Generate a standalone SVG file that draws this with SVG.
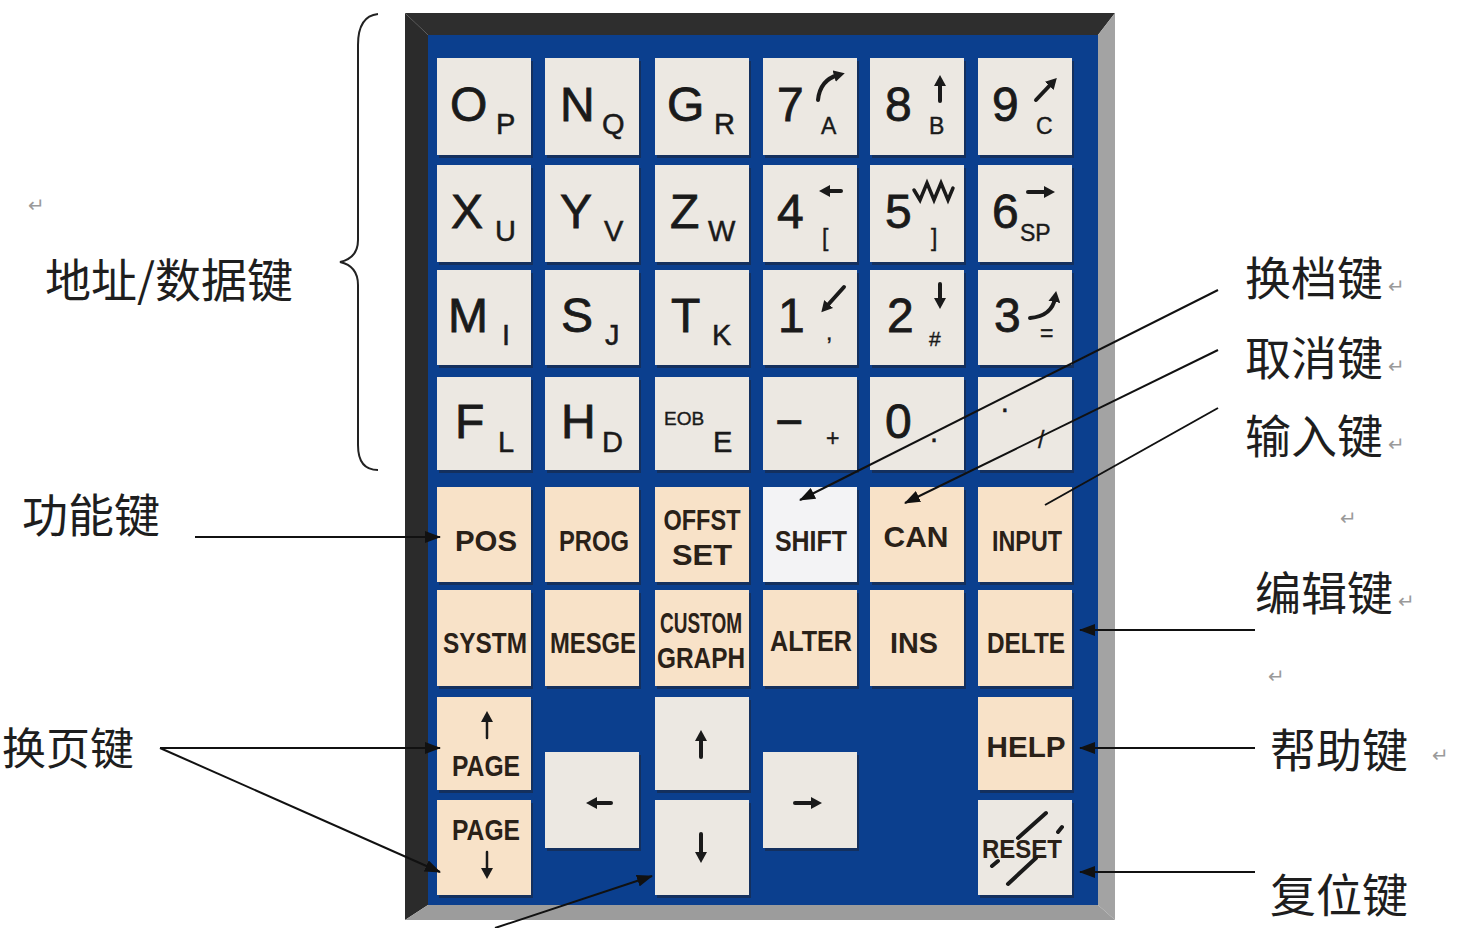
<svg xmlns="http://www.w3.org/2000/svg" width="1459" height="928" viewBox="0 0 1459 928">
<defs>
<style>
.bg{fill:#ffffff}
.k{fill:#ECE8E2}
.kp{fill:#F8E2C8}
.kw{fill:#F3F3F5}
.sh{fill:#14305E}
.m{font-family:"Liberation Sans",Arial,sans-serif;font-size:48px;fill:#1a1a1a;stroke:#1a1a1a;stroke-width:0.8px}
.s{font-family:"Liberation Sans",Arial,sans-serif;font-size:29px;fill:#1a1a1a;stroke:#1a1a1a;stroke-width:0.5px}
.ss{font-family:"Liberation Sans",Arial,sans-serif;font-size:23px;fill:#1a1a1a;stroke:#1a1a1a;stroke-width:0.4px}
.f{font-family:"Liberation Sans",Arial,sans-serif;font-size:30px;font-weight:bold;fill:#2a2118;text-anchor:middle}
.sym{stroke:#1a1a1a;stroke-width:4;fill:none;stroke-linecap:round}
.lbl{font-family:"Noto Sans CJK SC","Noto Sans",sans-serif;font-size:46px;fill:#1e1e1e}
.pm{font-family:"DejaVu Sans",sans-serif;font-size:20px;fill:#9a9a9a}
.con{stroke:#111;stroke-width:2;fill:none}
</style>
<marker id="ah" markerWidth="16" markerHeight="12" refX="15" refY="6" orient="auto" markerUnits="userSpaceOnUse"><path d="M0,0 L16,6 L0,12 z" fill="#111"/></marker>
<marker id="kh" markerWidth="12" markerHeight="12" refX="4" refY="6" orient="auto" markerUnits="userSpaceOnUse"><path d="M0,0 L11,6 L0,12 z" fill="#1a1a1a"/></marker>
</defs>
<rect class="bg" x="0" y="0" width="1459" height="928"/>

<g id="panel">
<polygon points="405,13 1115,13 1098,35 428,35" fill="#2E2E2E"/>
<polygon points="405,13 428,35 428,905 405,920" fill="#2B2B2B"/>
<polygon points="1115,13 1115,920 1098,905 1098,35" fill="#A3A3A3"/>
<polygon points="405,920 428,905 1098,905 1115,920" fill="#9C9C9C"/>
<rect x="428" y="35" width="670" height="870" fill="#0B3F8E"/>
</g>

<g id="keys">
<!-- Row 1 -->
<g id="key-op"><rect class="sh" x="439" y="61" width="94" height="97"/><rect class="k" x="437" y="58" width="94" height="97"/><text class="m" x="450" y="121">O</text><text class="s" x="496" y="134">P</text></g>
<g id="key-nq"><rect class="sh" x="547" y="61" width="94" height="97"/><rect class="k" x="545" y="58" width="94" height="97"/><text class="m" x="560" y="121">N</text><text class="s" x="602" y="134">Q</text></g>
<g id="key-gr"><rect class="sh" x="657" y="61" width="94" height="97"/><rect class="k" x="655" y="58" width="94" height="97"/><text class="m" x="667" y="121">G</text><text class="s" x="714" y="134">R</text></g>
<g id="key-7"><rect class="sh" x="765" y="61" width="94" height="97"/><rect class="k" x="763" y="58" width="94" height="97"/><text class="m" x="777" y="121">7</text><path class="sym" d="M818,100 Q820,80 838,75" marker-end="url(#kh)"/><text class="ss" x="821" y="134">A</text></g>
<g id="key-8"><rect class="sh" x="872" y="61" width="94" height="97"/><rect class="k" x="870" y="58" width="94" height="97"/><text class="m" x="885" y="121">8</text><path class="sym" d="M940,101 L940,82" marker-end="url(#kh)"/><text class="ss" x="929" y="134">B</text></g>
<g id="key-9"><rect class="sh" x="980" y="61" width="94" height="97"/><rect class="k" x="978" y="58" width="94" height="97"/><text class="m" x="992" y="121">9</text><path class="sym" d="M1036,100 L1052,83" marker-end="url(#kh)"/><text class="ss" x="1036" y="134">C</text></g>
<!-- Row 2 -->
<g id="key-xu"><rect class="sh" x="439" y="168" width="94" height="97"/><rect class="k" x="437" y="165" width="94" height="97"/><text class="m" x="451" y="228">X</text><text class="s" x="495" y="241">U</text></g>
<g id="key-yv"><rect class="sh" x="547" y="168" width="94" height="97"/><rect class="k" x="545" y="165" width="94" height="97"/><text class="m" x="560" y="228">Y</text><text class="s" x="604" y="241">V</text></g>
<g id="key-zw"><rect class="sh" x="657" y="168" width="94" height="97"/><rect class="k" x="655" y="165" width="94" height="97"/><text class="m" x="670" y="228">Z</text><text class="s" x="708" y="241">W</text></g>
<g id="key-4"><rect class="sh" x="765" y="168" width="94" height="97"/><rect class="k" x="763" y="165" width="94" height="97"/><text class="m" x="777" y="228">4</text><path class="sym" d="M841,191 L826,191" marker-end="url(#kh)"/><text class="ss" x="822" y="246">[</text></g>
<g id="key-5"><rect class="sh" x="872" y="168" width="94" height="97"/><rect class="k" x="870" y="165" width="94" height="97"/><text class="m" x="885" y="228">5</text><path class="sym" d="M914,190 L920,200 L927,183 L934,200 L941,183 L948,200 L953,188" style="stroke-width:3.5"/><text class="ss" x="931" y="246">]</text></g>
<g id="key-6"><rect class="sh" x="980" y="168" width="94" height="97"/><rect class="k" x="978" y="165" width="94" height="97"/><text class="m" x="992" y="228">6</text><path class="sym" d="M1028,192 L1048,192" marker-end="url(#kh)"/><text class="ss" x="1020" y="241">SP</text></g>
<!-- Row 3 -->
<g id="key-mi"><rect class="sh" x="439" y="273" width="94" height="95"/><rect class="k" x="437" y="270" width="94" height="95"/><text class="m" x="448" y="332">M</text><text class="s" x="502" y="345">I</text></g>
<g id="key-sj"><rect class="sh" x="547" y="273" width="94" height="95"/><rect class="k" x="545" y="270" width="94" height="95"/><text class="m" x="561" y="332">S</text><text class="s" x="605" y="345">J</text></g>
<g id="key-tk"><rect class="sh" x="657" y="273" width="94" height="95"/><rect class="k" x="655" y="270" width="94" height="95"/><text class="m" x="671" y="332">T</text><text class="s" x="712" y="345">K</text></g>
<g id="key-1"><rect class="sh" x="765" y="273" width="94" height="95"/><rect class="k" x="763" y="270" width="94" height="95"/><text class="m" x="778" y="332">1</text><path class="sym" d="M844,287 L826,307" marker-end="url(#kh)"/><text class="ss" x="826" y="340">,</text></g>
<g id="key-2"><rect class="sh" x="872" y="273" width="94" height="95"/><rect class="k" x="870" y="270" width="94" height="95"/><text class="m" x="887" y="332">2</text><path class="sym" d="M940,284 L940,302" marker-end="url(#kh)"/><text class="ss" x="929" y="346" style="font-size:21px">#</text></g>
<g id="key-3"><rect class="sh" x="980" y="273" width="94" height="95"/><rect class="k" x="978" y="270" width="94" height="95"/><text class="m" x="994" y="332">3</text><path class="sym" d="M1030,318 Q1052,316 1055,298" marker-end="url(#kh)"/><text class="ss" x="1040" y="341">=</text></g>
<!-- Row 4 -->
<g id="key-fl"><rect class="sh" x="439" y="380" width="94" height="93"/><rect class="k" x="437" y="377" width="94" height="93"/><text class="m" x="455" y="438">F</text><text class="s" x="498" y="452">L</text></g>
<g id="key-hd"><rect class="sh" x="547" y="380" width="94" height="93"/><rect class="k" x="545" y="377" width="94" height="93"/><text class="m" x="561" y="438">H</text><text class="s" x="602" y="452">D</text></g>
<g id="key-eob"><rect class="sh" x="657" y="380" width="94" height="93"/><rect class="k" x="655" y="377" width="94" height="93"/><text class="ss" x="664" y="425" style="font-size:19px">EOB</text><text class="s" x="713" y="452">E</text></g>
<g id="key-minus"><rect class="sh" x="765" y="380" width="94" height="93"/><rect class="k" x="763" y="377" width="94" height="93"/><text class="m" x="775" y="438">−</text><text class="ss" x="826" y="446">+</text></g>
<g id="key-0"><rect class="sh" x="872" y="380" width="94" height="93"/><rect class="k" x="870" y="377" width="94" height="93"/><text class="m" x="885" y="438">0</text><text class="s" x="930" y="442">.</text></g>
<g id="key-dot"><rect class="sh" x="980" y="380" width="94" height="93"/><rect class="k" x="978" y="377" width="94" height="93"/><text class="s" x="1000" y="418">·</text><text class="ss" x="1038" y="448">/</text></g>
<!-- Row 5 -->
<g id="key-pos"><rect class="sh" x="439" y="490" width="94" height="95"/><rect class="kp" x="437" y="487" width="94" height="95"/><text class="f" x="486" y="551" textLength="62" lengthAdjust="spacingAndGlyphs">POS</text></g>
<g id="key-prog"><rect class="sh" x="547" y="490" width="94" height="95"/><rect class="kp" x="545" y="487" width="94" height="95"/><text class="f" x="594" y="551" textLength="70" lengthAdjust="spacingAndGlyphs">PROG</text></g>
<g id="key-offset"><rect class="sh" x="657" y="490" width="94" height="95"/><rect class="kp" x="655" y="487" width="94" height="95"/><text class="f" x="702" y="530" textLength="77" lengthAdjust="spacingAndGlyphs">OFFST</text><text class="f" x="702" y="565" textLength="60" lengthAdjust="spacingAndGlyphs">SET</text></g>
<g id="key-shift"><rect class="sh" x="765" y="490" width="94" height="95"/><rect class="kw" x="763" y="487" width="94" height="95"/><text class="f" x="811" y="551" textLength="72" lengthAdjust="spacingAndGlyphs">SHIFT</text></g>
<g id="key-can"><rect class="sh" x="872" y="490" width="94" height="95"/><rect class="kp" x="870" y="487" width="94" height="95"/><text class="f" x="916" y="547" textLength="65" lengthAdjust="spacingAndGlyphs">CAN</text></g>
<g id="key-input"><rect class="sh" x="980" y="490" width="94" height="95"/><rect class="kp" x="978" y="487" width="94" height="95"/><text class="f" x="1027" y="551" textLength="70" lengthAdjust="spacingAndGlyphs">INPUT</text></g>
<!-- Row 6 -->
<g id="key-systm"><rect class="sh" x="439" y="593" width="94" height="96"/><rect class="kp" x="437" y="590" width="94" height="96"/><text class="f" x="485" y="653" textLength="84" lengthAdjust="spacingAndGlyphs">SYSTM</text></g>
<g id="key-mesge"><rect class="sh" x="547" y="593" width="94" height="96"/><rect class="kp" x="545" y="590" width="94" height="96"/><text class="f" x="593" y="653" textLength="86" lengthAdjust="spacingAndGlyphs">MESGE</text></g>
<g id="key-custom"><rect class="sh" x="657" y="593" width="94" height="96"/><rect class="kp" x="655" y="590" width="94" height="96"/><text class="f" x="701" y="633" textLength="82" lengthAdjust="spacingAndGlyphs">CUSTOM</text><text class="f" x="701" y="668" textLength="88" lengthAdjust="spacingAndGlyphs">GRAPH</text></g>
<g id="key-alter"><rect class="sh" x="765" y="593" width="94" height="96"/><rect class="kp" x="763" y="590" width="94" height="96"/><text class="f" x="811" y="651" textLength="82" lengthAdjust="spacingAndGlyphs">ALTER</text></g>
<g id="key-ins"><rect class="sh" x="872" y="593" width="94" height="96"/><rect class="kp" x="870" y="590" width="94" height="96"/><text class="f" x="914" y="653" textLength="48" lengthAdjust="spacingAndGlyphs">INS</text></g>
<g id="key-delte"><rect class="sh" x="980" y="593" width="94" height="96"/><rect class="kp" x="978" y="590" width="94" height="96"/><text class="f" x="1026" y="653" textLength="78" lengthAdjust="spacingAndGlyphs">DELTE</text></g>
<!-- Row 7-8 -->
<g id="key-pageup"><rect class="sh" x="439" y="700" width="94" height="93"/><rect class="kp" x="437" y="697" width="94" height="93"/><path class="sym" d="M487,738 L487,718" style="stroke-width:2.5" marker-end="url(#kh)"/><text class="f" x="486" y="776" textLength="68" lengthAdjust="spacingAndGlyphs">PAGE</text></g>
<g id="key-pagedown"><rect class="sh" x="439" y="803" width="94" height="95"/><rect class="kp" x="437" y="800" width="94" height="95"/><text class="f" x="486" y="840" textLength="68" lengthAdjust="spacingAndGlyphs">PAGE</text><path class="sym" d="M487,852 L487,872" style="stroke-width:2.5" marker-end="url(#kh)"/></g>
<g id="key-left"><rect class="sh" x="547" y="755" width="94" height="96"/><rect class="k" x="545" y="752" width="94" height="96"/><path class="sym" d="M611,803 L593,803" marker-end="url(#kh)"/></g>
<g id="key-up"><rect class="sh" x="657" y="700" width="94" height="93"/><rect class="k" x="655" y="697" width="94" height="93"/><path class="sym" d="M701,757 L701,737" marker-end="url(#kh)"/></g>
<g id="key-down"><rect class="sh" x="657" y="803" width="94" height="95"/><rect class="k" x="655" y="800" width="94" height="95"/><path class="sym" d="M701,834 L701,856" marker-end="url(#kh)"/></g>
<g id="key-right"><rect class="sh" x="765" y="755" width="94" height="96"/><rect class="k" x="763" y="752" width="94" height="96"/><path class="sym" d="M795,803 L815,803" marker-end="url(#kh)"/></g>
<g id="key-help"><rect class="sh" x="980" y="700" width="94" height="93"/><rect class="kp" x="978" y="697" width="94" height="93"/><text class="f" x="1026" y="757" textLength="79" lengthAdjust="spacingAndGlyphs">HELP</text></g>
<g id="key-reset"><rect class="sh" x="980" y="803" width="94" height="95"/><rect class="k" x="978" y="800" width="94" height="95"/><text class="f" x="1022" y="858" style="font-size:26px" textLength="80" lengthAdjust="spacingAndGlyphs">RESET</text><path class="sym" d="M1018,838 L1046,813 M1008,884 L1036,858 M992,866 L998,861 M1058,832 L1062,827"/></g>
</g>

<g id="labels">
<text class="pm" x="28" y="212">↵</text>
<path d="M378,14 Q358,16 358,45 L358,240 Q358,258 340,262 Q358,266 358,285 L358,445 Q358,470 378,470" fill="none" stroke="#222" stroke-width="2"/>
<text class="lbl" x="45" y="297">地址/数据键</text>
<text class="lbl" x="22" y="532">功能键</text>
<text class="lbl" x="2" y="765" style="font-size:44px">换页键</text>
<text class="lbl" x="1245" y="295">换档键</text><text class="pm" x="1388" y="293">↵</text>
<text class="lbl" x="1245" y="375">取消键</text><text class="pm" x="1388" y="373">↵</text>
<text class="lbl" x="1245" y="453">输入键</text><text class="pm" x="1388" y="451">↵</text>
<text class="pm" x="1340" y="525">↵</text>
<text class="lbl" x="1255" y="610">编辑键</text><text class="pm" x="1398" y="608">↵</text>
<text class="pm" x="1268" y="683">↵</text>
<text class="lbl" x="1270" y="767">帮助键</text><text class="pm" x="1432" y="762">↵</text>
<text class="lbl" x="1270" y="912">复位键</text>
</g>

<g id="connectors">
<line class="con" x1="195" y1="537" x2="440" y2="537" marker-end="url(#ah)"/>
<line class="con" x1="160" y1="748" x2="440" y2="748" marker-end="url(#ah)"/>
<line class="con" x1="160" y1="748" x2="440" y2="872" marker-end="url(#ah)"/>
<line class="con" x1="1218" y1="290" x2="800" y2="500" marker-end="url(#ah)"/>
<line class="con" x1="1218" y1="350" x2="905" y2="503" marker-end="url(#ah)"/>
<line class="con" x1="1218" y1="408" x2="1045" y2="505"/>
<line class="con" x1="1255" y1="630" x2="1080" y2="630" marker-end="url(#ah)"/>
<line class="con" x1="1255" y1="748" x2="1080" y2="748" marker-end="url(#ah)"/>
<line class="con" x1="1255" y1="872" x2="1080" y2="872" marker-end="url(#ah)"/>
<line class="con" x1="495" y1="928" x2="652" y2="876" marker-end="url(#ah)"/>
</g>
</svg>
